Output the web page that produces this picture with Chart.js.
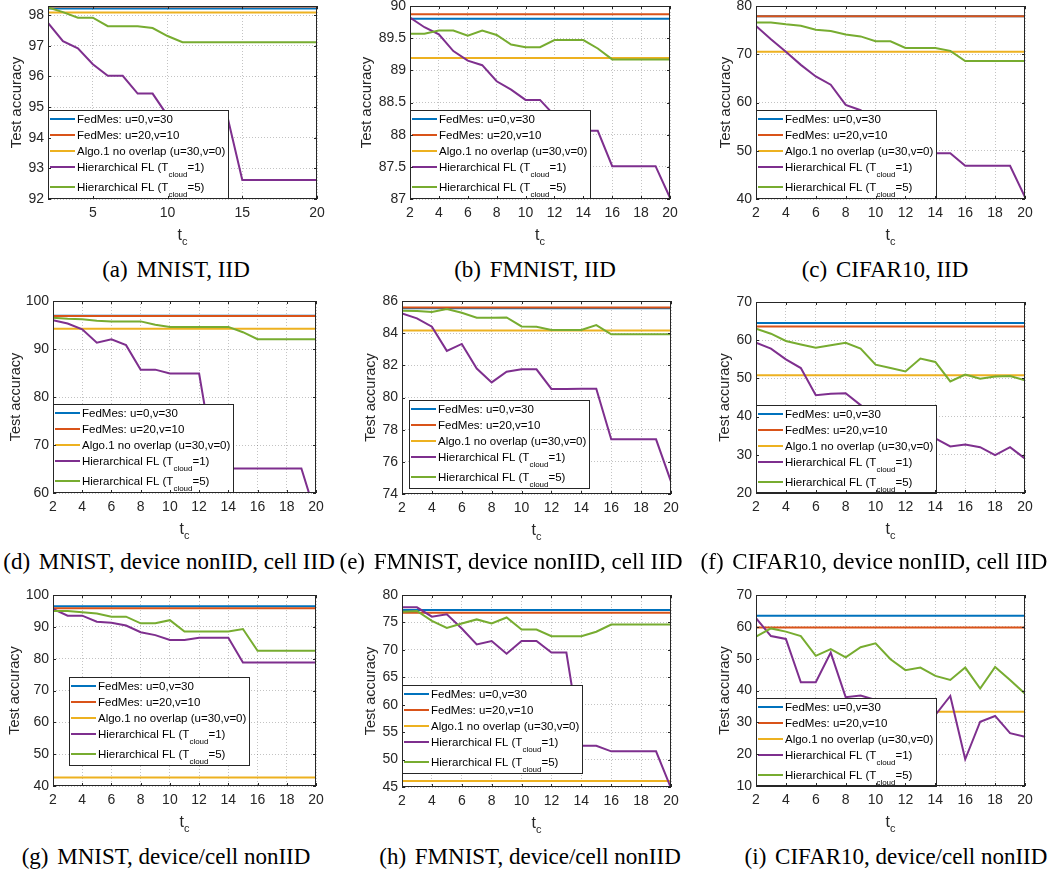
<!DOCTYPE html>
<html>
<head>
<meta charset="utf-8">
<script src="https://cdn.jsdelivr.net/npm/chart.js@4.4.0/dist/chart.umd.min.js"></script>
<style>
  html, body { margin: 0; padding: 0; background: #fff; }
  body { width: 1062px; height: 873px; position: relative; overflow: hidden; }
  canvas { position: absolute; }
  .cap {
    position: absolute;
    font-family: "Liberation Serif", "Times New Roman", serif;
    font-size: 23px;
    line-height: 22px;
    white-space: nowrap;
    color: #000;
    transform: translateX(-50%);
  }
  .cap .tag { margin-right: 3px; }
</style>
</head>
<body>
<script>
// communication period t_c, shared x values of every panel
const TC = [2, 3, 4, 5, 6, 7, 8, 9, 10, 11, 12, 13, 14, 15, 16, 17, 18, 19, 20];

const SERIES_LABELS = [
  ['FedMes: u=0,v=30'],
  ['FedMes: u=20,v=10'],
  ['Algo.1 no overlap (u=30,v=0)'],
  ['Hierarchical FL (T', 'cloud', '=1)'],
  ['Hierarchical FL (T', 'cloud', '=5)']
];
const SERIES_COLORS = ['#0072BD', '#D95319', '#EDB120', '#7E2F8E', '#77AC30'];

// flat baselines: FedMes u=0,v=30 / FedMes u=20,v=10 / Algo.1 no overlap
// (a) MNIST, IID
const baseA = [98.22, 98.28, 98.09];
const hfl1A = [97.75, 97.15, 96.92, 96.4, 96.02, 96.02, 95.44, 95.44, 94.72, 94.7, 94.7, 94.7, 94.7, 92.62, 92.62, 92.62, 92.62, 92.62, 92.62];
const hfl5A = [98.25, 98.1, 97.92, 97.92, 97.64, 97.64, 97.64, 97.58, 97.32, 97.12, 97.12, 97.12, 97.12, 97.12, 97.12, 97.12, 97.12, 97.12, 97.12];
const yTicksA = [92, 93, 94, 95, 96, 97, 98];
const xTicksA = [5, 10, 15, 20];

// (b) FMNIST, IID
const baseB = [89.8, 89.87, 89.19];
const hfl1B = [89.82, 89.67, 89.56, 89.3, 89.15, 89.08, 88.83, 88.7, 88.54, 88.54, 88.3, 88.15, 88.06, 88.06, 87.51, 87.51, 87.51, 87.51, 87.02];
const hfl5B = [89.57, 89.57, 89.62, 89.62, 89.54, 89.62, 89.55, 89.4, 89.36, 89.36, 89.47, 89.47, 89.47, 89.34, 89.17, 89.17, 89.17, 89.17, 89.17];
const yTicksB = [87, 87.5, 88, 88.5, 89, 89.5, 90];

// (c) CIFAR10, IID
const baseC = [77.9, 77.85, 70.53];
const hfl1C = [75.85, 73.1, 70.5, 67.8, 65.4, 63.7, 59.5, 58.4, 56, 54, 52, 50.5, 49.5, 49.5, 46.9, 46.9, 46.9, 46.9, 40.4];
const hfl5C = [76.6, 76.6, 76.2, 75.9, 75.1, 74.8, 74.1, 73.7, 72.7, 72.7, 71.3, 71.3, 71.3, 70.7, 68.6, 68.6, 68.6, 68.6, 68.6];
const yTicksC = [40, 50, 60, 70, 80];

// (d) MNIST, device nonIID, cell IID
const baseD = [96.95, 96.85, 94.2];
const hfl1D = [96.0, 95.3, 94.1, 91.3, 92.0, 90.8, 85.7, 85.7, 84.9, 84.9, 84.9, 67, 65.1, 65.1, 65.1, 65.1, 65.1, 65.1, 55.3];
const hfl5D = [96.5, 96.3, 96.2, 95.9, 95.75, 95.75, 95.75, 95.05, 94.6, 94.6, 94.6, 94.6, 94.6, 93.5, 92.05, 92.05, 92.05, 92.05, 92.05];
const yTicksD = [60, 70, 80, 90, 100];

// (e) FMNIST, device nonIID, cell IID
const baseE = [85.55, 85.6, 84.16];
const hfl1E = [85.23, 84.92, 84.4, 82.9, 83.33, 81.8, 80.94, 81.6, 81.75, 81.75, 80.53, 80.53, 80.55, 80.55, 77.4, 77.4, 77.4, 77.4, 74.77];
const hfl5E = [85.4, 85.38, 85.32, 85.5, 85.27, 84.96, 84.96, 84.98, 84.42, 84.4, 84.2, 84.2, 84.2, 84.5, 83.93, 83.93, 83.93, 83.93, 83.93];
const yTicksE = [74, 76, 78, 80, 82, 84, 86];

// (f) CIFAR10, device nonIID, cell IID
const baseF = [64.5, 63.6, 50.8];
const hfl1F = [59.35, 57.8, 55, 52.7, 45.6, 46, 46.1, 43, 40, 38, 37, 35.5, 34.3, 32.2, 32.7, 32.0, 29.9, 32.0, 29.0];
const hfl5F = [63.0, 61.7, 59.8, 58.9, 58.0, 58.65, 59.3, 57.8, 53.6, 52.7, 51.8, 55.2, 54.3, 49.2, 51.0, 49.9, 50.5, 50.6, 49.5];
const yTicksF = [20, 30, 40, 50, 60, 70];

// (g) MNIST, device/cell nonIID
const baseG = [96.5, 95.8, 42.7];
const hfl1G = [95.6, 93.5, 93.5, 91.6, 91.3, 90.4, 88.3, 87.4, 85.9, 85.9, 86.6, 86.6, 86.6, 78.8, 78.8, 78.8, 78.8, 78.8, 78.8];
const hfl5G = [95.0, 95.0, 94.6, 94.2, 93.2, 93.2, 91.1, 91.1, 92.1, 88.5, 88.5, 88.5, 88.5, 89.3, 82.5, 82.5, 82.5, 82.5, 82.5];
const yTicksG = [40, 50, 60, 70, 80, 90, 100];

// (h) FMNIST, device/cell nonIID
const baseH = [77.26, 76.77, 46.1];
const hfl1H = [77.75, 77.75, 76.05, 76.5, 73.9, 71.0, 71.6, 69.3, 71.6, 71.6, 69.5, 69.5, 52.5, 52.5, 51.5, 51.5, 51.5, 51.5, 44.8];
const hfl5H = [76.95, 77.1, 75.3, 74.0, 74.8, 75.55, 74.8, 75.9, 73.7, 73.7, 72.5, 72.5, 72.5, 73.3, 74.6, 74.6, 74.6, 74.6, 74.6];
const yTicksH = [45, 50, 55, 60, 65, 70, 75, 80];

// (i) CIFAR10, device/cell nonIID
const baseI = [63.5, 59.8, 33.3];
const hfl1I = [62.7, 57.1, 56.2, 42.6, 42.6, 51.9, 37.9, 38.4, 37, 35, 34, 33, 32.3, 38.3, 18.4, 30.2, 32.0, 26.6, 25.5];
const hfl5I = [56.9, 59.5, 58.5, 57.1, 50.9, 53.0, 50.4, 53.6, 54.8, 49.8, 46.4, 47.2, 44.6, 43.3, 47.2, 40.6, 47.4, 43.3, 39.0];
const yTicksI = [10, 20, 30, 40, 50, 60, 70];

const xTicksEven = [2, 4, 6, 8, 10, 12, 14, 16, 18, 20];

const PANELS = [
  { id: 'a', tag: '(a)', name: 'MNIST, IID', base: baseA, hfl1: hfl1A, hfl5: hfl5A, yMin: 92, yMax: 98.3, yTicks: yTicksA, xTicks: xTicksA },
  { id: 'b', tag: '(b)', name: 'FMNIST, IID', base: baseB, hfl1: hfl1B, hfl5: hfl5B, yMin: 87, yMax: 90, yTicks: yTicksB, xTicks: xTicksEven },
  { id: 'c', tag: '(c)', name: 'CIFAR10, IID', base: baseC, hfl1: hfl1C, hfl5: hfl5C, yMin: 40, yMax: 80, yTicks: yTicksC, xTicks: xTicksEven },
  { id: 'd', tag: '(d)', name: 'MNIST, device nonIID, cell IID', base: baseD, hfl1: hfl1D, hfl5: hfl5D, yMin: 60, yMax: 100, yTicks: yTicksD, xTicks: xTicksEven },
  { id: 'e', tag: '(e)', name: 'FMNIST, device nonIID, cell IID', base: baseE, hfl1: hfl1E, hfl5: hfl5E, yMin: 74, yMax: 86, yTicks: yTicksE, xTicks: xTicksEven },
  { id: 'f', tag: '(f)', name: 'CIFAR10, device nonIID, cell IID', base: baseF, hfl1: hfl1F, hfl5: hfl5F, yMin: 20, yMax: 70, yTicks: yTicksF, xTicks: xTicksEven },
  { id: 'g', tag: '(g)', name: 'MNIST, device/cell nonIID', base: baseG, hfl1: hfl1G, hfl5: hfl5G, yMin: 40, yMax: 100, yTicks: yTicksG, xTicks: xTicksEven },
  { id: 'h', tag: '(h)', name: 'FMNIST, device/cell nonIID', base: baseH, hfl1: hfl1H, hfl5: hfl5H, yMin: 45, yMax: 80, yTicks: yTicksH, xTicks: xTicksEven },
  { id: 'i', tag: '(i)', name: 'CIFAR10, device/cell nonIID', base: baseI, hfl1: hfl1I, hfl5: hfl5I, yMin: 10, yMax: 70, yTicks: yTicksI, xTicks: xTicksEven }
];

// page placement: plot box [left, top, right, bottom], legend offset from plot corner,
// y title offset from the plot's left edge, caption centre and baseline
const LAYOUT = {
  a: { plot: [48, 6, 317, 199], legend: [0, 104], yTitle: -31, titleSize: 15, capX: 176, capY: 278 },
  b: { plot: [410, 6, 670, 199], legend: [0, 104], yTitle: -43, titleSize: 15, capX: 535, capY: 278 },
  c: { plot: [756, 6, 1025, 199], legend: [0, 104], yTitle: -30, titleSize: 15, capX: 885, capY: 278 },
  d: { plot: [53, 301, 316, 493], legend: [0, 103], yTitle: -37, titleSize: 14.5, capX: 169, capY: 570 },
  e: { plot: [402, 301, 671, 494], legend: [7, 99], yTitle: -31, titleSize: 14.5, capX: 511, capY: 570 },
  f: { plot: [756, 302, 1025, 493], legend: [0, 103], yTitle: -31, titleSize: 14.5, capX: 874, capY: 570 },
  g: { plot: [53, 595, 316, 786], legend: [16, 82], yTitle: -38, titleSize: 14.5, capX: 166, capY: 865 },
  h: { plot: [402, 595, 671, 787], legend: [0, 90], yTitle: -31, titleSize: 14.5, capX: 530, capY: 865 },
  i: { plot: [756, 595, 1025, 786], legend: [0, 103], yTitle: -31, titleSize: 14.5, capX: 896, capY: 865 }
};

const FONT = '"Liberation Sans", Arial, Helvetica, sans-serif';
const INK = '#262626';
const LEGEND_ROWS = [9, 25, 41, 57, 77];
const LEGEND_W = 181, LEGEND_H = 89;
const AXIS_LEFT = 56, AXIS_BOTTOM = 56, PAD_TOP = 12, PAD_RIGHT = 16;

// draws "Hierarchical FL (T_cloud=1)" style text with a lowered subscript
function drawLabel(ctx, parts, x, baseY, size) {
  ctx.font = `${size}px ${FONT}`;
  ctx.fillText(parts[0], x, baseY);
  if (parts.length === 1) return;
  let cx = x + ctx.measureText(parts[0]).width;
  ctx.font = `8px ${FONT}`;
  ctx.fillText(parts[1], cx, baseY + 5.5);
  cx += ctx.measureText(parts[1]).width;
  ctx.font = `${size}px ${FONT}`;
  ctx.fillText(parts[2], cx, baseY);
}

const panelDecor = {
  id: 'panelDecor',
  afterDatasetsDraw(chart, args, opts) {
    const { ctx, chartArea: a } = chart;
    const xs = chart.scales.x, ys = chart.scales.y;
    ctx.save();

    // legend, opaque over the curves
    const bx = Math.round(a.left + opts.legend[0]);
    const by = Math.round(a.top + opts.legend[1]);
    ctx.fillStyle = '#fff';
    ctx.fillRect(bx, by, LEGEND_W, LEGEND_H);
    ctx.strokeStyle = INK;
    ctx.lineWidth = 1;
    ctx.strokeRect(bx + 0.5, by + 0.5, LEGEND_W - 1, LEGEND_H - 1);
    ctx.textAlign = 'left';
    ctx.textBaseline = 'alphabetic';
    SERIES_LABELS.forEach((parts, i) => {
      const ry = by + LEGEND_ROWS[i];
      ctx.strokeStyle = SERIES_COLORS[i];
      ctx.lineWidth = 2;
      ctx.beginPath();
      ctx.moveTo(bx + 2, ry);
      ctx.lineTo(bx + 27, ry);
      ctx.stroke();
      ctx.fillStyle = '#000';
      drawLabel(ctx, parts, bx + 29, ry + 4.1, 11.5);
    });

    // box and inward tick marks
    ctx.strokeStyle = INK;
    ctx.lineWidth = 1;
    ctx.beginPath();
    xs.ticks.forEach(t => {
      const px = Math.round(xs.getPixelForValue(t.value)) + 0.5;
      ctx.moveTo(px, a.bottom); ctx.lineTo(px, a.bottom - 3);
      ctx.moveTo(px, a.top); ctx.lineTo(px, a.top + 3);
    });
    ys.ticks.forEach(t => {
      const py = Math.round(ys.getPixelForValue(t.value)) + 0.5;
      ctx.moveTo(a.left, py); ctx.lineTo(a.left + 3, py);
      ctx.moveTo(a.right, py); ctx.lineTo(a.right - 3, py);
    });
    ctx.stroke();
    ctx.strokeRect(a.left + 0.5, a.top + 0.5, a.right - a.left - 1, a.bottom - a.top - 1);

    // x title t_c
    ctx.fillStyle = INK;
    ctx.font = `16px ${FONT}`;
    const tw = ctx.measureText('t').width;
    ctx.font = `11px ${FONT}`;
    const cw = ctx.measureText('c').width;
    const tx = (a.left + a.right) / 2 - (tw + cw) / 2;
    ctx.font = `16px ${FONT}`;
    ctx.fillText('t', tx, a.bottom + 41);
    ctx.font = `11px ${FONT}`;
    ctx.fillText('c', tx + tw, a.bottom + 46);

    // y title
    ctx.translate(a.left + opts.yTitle + 0.253 * opts.titleSize, (a.top + a.bottom) / 2);
    ctx.rotate(-Math.PI / 2);
    ctx.textAlign = 'center';
    ctx.font = `${opts.titleSize}px ${FONT}`;
    ctx.fillText('Test accuracy', 0, 0);
    ctx.restore();
  }
};

// pin the axis boxes so the plot lands on a known rectangle
const fixBox = size => scale => {
  if (scale.isHorizontal()) scale.height = size; else scale.width = size;
  scale.paddingLeft = scale.paddingRight = scale.paddingTop = scale.paddingBottom = 0;
};

const flat = v => [{ x: TC[0], y: v }, { x: TC[TC.length - 1], y: v }];
const curve = vals => TC.map((t, i) => ({ x: t, y: vals[i] }));

const tickFont = { family: FONT, size: 14 };
const gridOpts = { color: 'rgba(38,38,38,0.28)', lineWidth: 1, drawTicks: false };

PANELS.forEach(p => {
  const L = LAYOUT[p.id];
  const [x0, y0, x1, y1] = L.plot;
  const W = x1 - x0 + AXIS_LEFT + PAD_RIGHT;
  const H = y1 - y0 + PAD_TOP + AXIS_BOTTOM;
  const cv = document.createElement('canvas');
  cv.width = W; cv.height = H;
  cv.style.left = (x0 - AXIS_LEFT) + 'px';
  cv.style.top = (y0 - PAD_TOP) + 'px';
  cv.style.width = W + 'px';
  cv.style.height = H + 'px';
  document.body.appendChild(cv);

  const seriesData = [flat(p.base[0]), flat(p.base[1]), flat(p.base[2]), curve(p.hfl1), curve(p.hfl5)];

  new Chart(cv.getContext('2d'), {
    type: 'line',
    data: {
      datasets: seriesData.map((d, i) => ({
        label: SERIES_LABELS[i].join(''),
        data: d,
        borderColor: SERIES_COLORS[i],
        backgroundColor: SERIES_COLORS[i],
        borderWidth: 2,
        pointRadius: 0,
        tension: 0,
        fill: false,
        order: 4 - i
      }))
    },
    options: {
      responsive: false,
      animation: false,
      devicePixelRatio: 1,
      events: [],
      layout: { padding: { left: 0, top: PAD_TOP, right: PAD_RIGHT, bottom: 0 } },
      plugins: {
        legend: { display: false },
        tooltip: { enabled: false },
        panelDecor: { legend: L.legend, yTitle: L.yTitle, titleSize: L.titleSize }
      },
      scales: {
        x: {
          type: 'linear',
          min: 2,
          max: 20,
          afterBuildTicks: s => { s.ticks = p.xTicks.map(v => ({ value: v })); },
          afterFit: fixBox(AXIS_BOTTOM),
          grid: gridOpts,
          border: { display: false, dash: [1, 2] },
          ticks: { font: tickFont, color: INK, padding: 6, maxRotation: 0, autoSkip: false, callback: v => `${v}` }
        },
        y: {
          type: 'linear',
          min: p.yMin,
          max: p.yMax,
          afterBuildTicks: s => { s.ticks = p.yTicks.map(v => ({ value: v })); },
          afterFit: fixBox(AXIS_LEFT),
          grid: gridOpts,
          border: { display: false, dash: [1, 2] },
          ticks: { font: tickFont, color: INK, padding: 4, autoSkip: false, callback: v => `${v}` }
        }
      }
    },
    plugins: [panelDecor]
  });

  const cap = document.createElement('div');
  cap.className = 'cap';
  cap.innerHTML = `<span class="tag">${p.tag}</span> ${p.name}`;
  cap.style.left = L.capX + 'px';
  cap.style.top = (L.capY - 18.6) + 'px';
  document.body.appendChild(cap);
});
</script>
</body>
</html>
